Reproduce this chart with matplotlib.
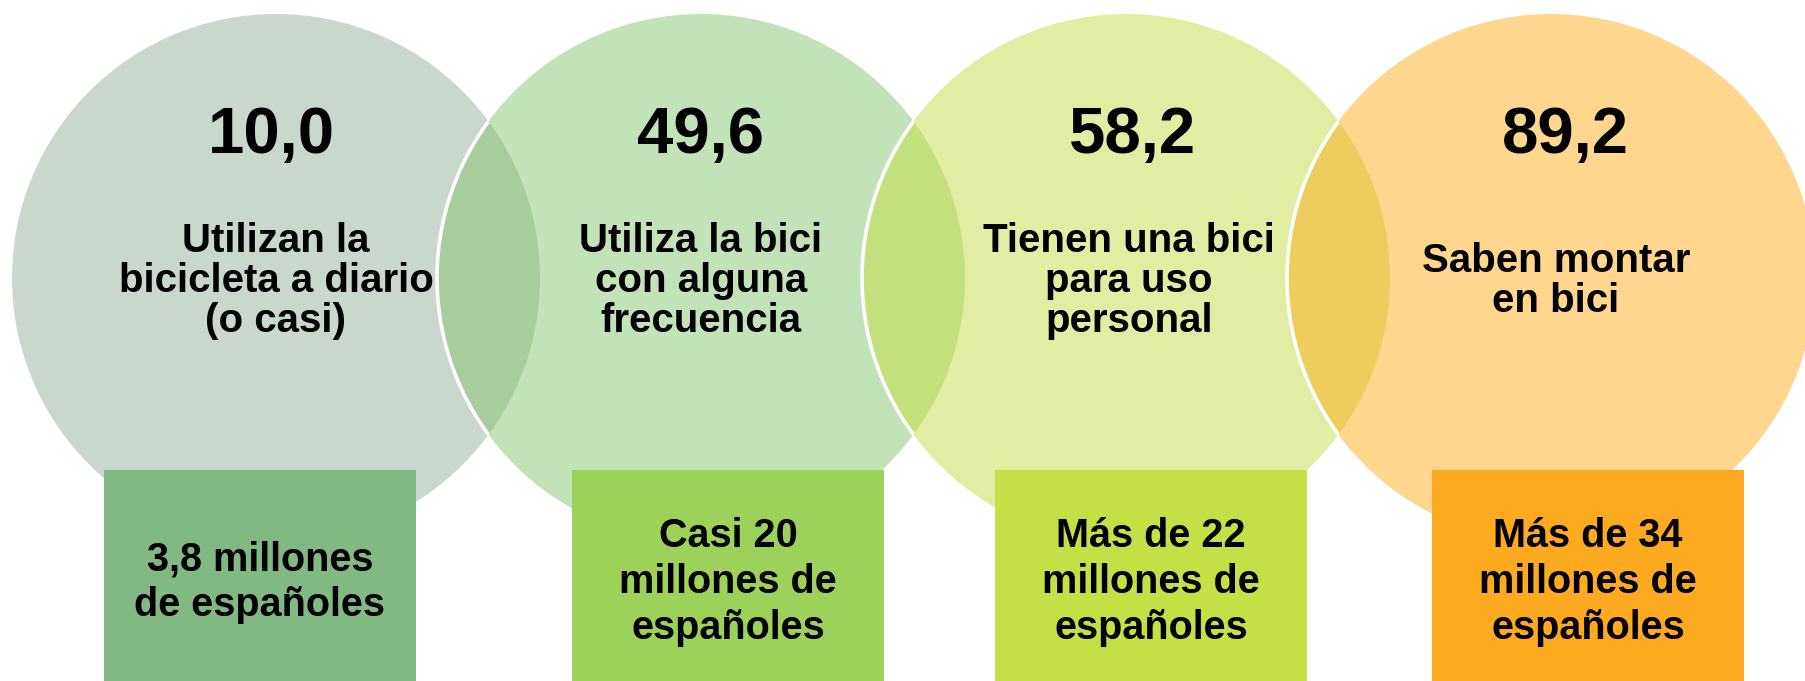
import matplotlib
matplotlib.use("Agg")
from matplotlib import pyplot as plt
from matplotlib.patches import Circle, Arc, Rectangle

# datos de la encuesta
percentages = [10.0, 49.6, 58.2, 89.2]
descriptions = [
    "Utilizan la\nbicicleta a diario\n(o casi)",
    "Utiliza la bici\ncon alguna\nfrecuencia",
    "Tienen una bici\npara uso\npersonal",
    "Saben montar\nen bici",
]
population = [
    "3,8 millones\nde españoles",
    "Casi 20\nmillones de\nespañoles",
    "Más de 22\nmillones de\nespañoles",
    "Más de 34\nmillones de\nespañoles",
]

circleColors  = ["#C9D7CC", "#C2E2B7", "#E1EDA3", "#FED68D"]
overlapColors = ["#A8CD9D", "#C4E07D", "#EFCC5E"]
boxColors     = ["#82B882", "#9CD25A", "#C5DF47", "#FEAA20"]

W, H = 1806, 681
R = 264
CY = 278
STEP = 425
boxLefts = [104, 572, 995, 1432]
BOX_W = 312
BOX_TOP = 470
numberShift = [-5, 0, 7, 14]   # el texto grande no esta del todo centrado
descShift = [0, 0, 3, 5]

plt.rcParams['font.family'] = ['Liberation Sans', 'DejaVu Sans']

fig = plt.figure(figsize=(W / 100, H / 100), dpi=100)
ax = fig.add_axes([0, 0, 1, 1])
ax.set_xlim(0, W)
ax.set_ylim(H, 0)
ax.set_aspect('equal')
ax.axis('off')

centers = [276 + STEP * i for i in range(len(percentages))]

circles = []
for i, cx in enumerate(centers):
    c = Circle((cx, CY), R, facecolor=circleColors[i], edgecolor='none', zorder=1)
    ax.add_patch(c)
    circles.append(c)

# zonas de solapamiento entre circulos vecinos
for i in range(1, len(centers)):
    lens = Circle((centers[i], CY), R, facecolor=overlapColors[i - 1],
                  edgecolor='none', zorder=2)
    ax.add_patch(lens)
    lens.set_clip_path(circles[i - 1])
    arc = Arc((centers[i], CY), 2 * R, 2 * R, theta1=90, theta2=270,
              color='white', lw=2.6, zorder=3)
    ax.add_patch(arc)
    arc.set_clip_path(circles[i - 1])

for i, cx in enumerate(centers):
    ax.text(cx + numberShift[i], 136, f"{percentages[i]:.1f}".replace('.', ','),
            fontsize=47, fontweight='bold', ha='center', va='center', zorder=5)
    ax.text(cx + descShift[i], 281, descriptions[i], fontsize=29, fontweight='bold',
            ha='center', va='center', linespacing=1.05, zorder=5)

for i, left in enumerate(boxLefts):
    ax.add_patch(Rectangle((left, BOX_TOP), BOX_W, H - BOX_TOP + 5,
                           facecolor=boxColors[i], edgecolor='none', zorder=4))
    ax.text(left + BOX_W / 2, 582, population[i], fontsize=28.5, fontweight='bold',
            ha='center', va='center', linespacing=1.26, zorder=5)

fig.savefig("out.png", dpi=100)
